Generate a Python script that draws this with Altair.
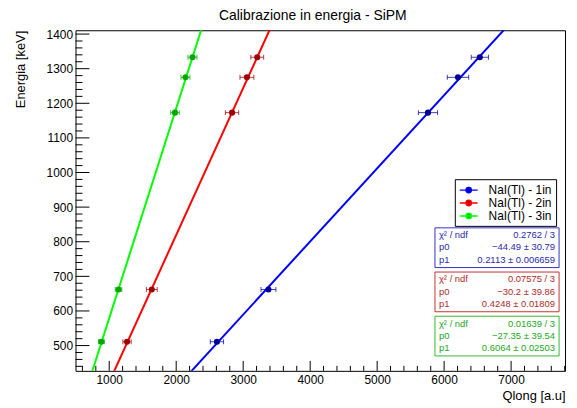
import altair as alt
import pandas as pd
import numpy as np

FONT = "Liberation Sans"

title_text = "Calibrazione in energia - SiPM"
x_title = "Qlong [a.u]"
y_title = "Energia [keV]"

series = ["NaI(Tl) - 1in", "NaI(Tl) - 2in", "NaI(Tl) - 3in"]
energy = [511, 662, 1173, 1275, 1333]

q_1in = [2608, 3377, 5759, 6207, 6533]
err_1in = [99, 111, 143, 160, 128]
q_2in = [1266, 1636, 2834, 3056, 3210]
err_2in = [62, 81, 99, 104, 96]
q_3in = [883, 1139, 1982, 2139, 2243]
err_3in = [44, 49, 64, 67, 67]

fit_p0 = [-44.49, -30.2, -27.35]
fit_p1 = [0.2113, 0.4248, 0.6064]

chi2_text = ["0.2762 / 3", "0.07575 / 3", "0.01639 / 3"]
p0_text = ["\u221244.49 \u00b1 30.79", "\u221230.2 \u00b1 39.86", "\u221227.35 \u00b1 39.54"]
p1_text = ["0.2113 \u00b1 0.006659", "0.4248 \u00b1 0.01809", "0.6064 \u00b1 0.02503"]
stat_names = ["\u03c7\u00b2 / ndf", "p0", "p1"]

x_major = [1000, 2000, 3000, 4000, 5000, 6000, 7000]
y_major = [500, 600, 700, 800, 900, 1000, 1100, 1200, 1300, 1400]

line_colors = ["#0000ff", "#ff0000", "#00ff00"]
marker_colors = ["#000099", "#a00000", "#00a800"]
stat_text_colors = ["#2a2ab0", "#b02a2a", "#22a822"]
stat_border_colors = ["#3030c8", "#c83030", "#30b830"]

x_domain = [497, 7805]
y_domain = [427, 1411]
W, H = 493, 343

# ---------- data frames ----------
qs = [q_1in, q_2in, q_3in]
errs = [err_1in, err_2in, err_3in]
rows = []
for s, q, e in zip(series, qs, errs):
    for E, qi, ei in zip(energy, q, e):
        rows.append({"series": s, "E": E, "q": qi, "lo": qi - ei, "hi": qi + ei})
pts = pd.DataFrame(rows)

line_rows = []
for s, a, b in zip(series, fit_p0, fit_p1):
    for E in (380.0, 1460.0):
        line_rows.append({"series": s, "E": E, "q": (E - a) / b})
lines_df = pd.DataFrame(line_rows)

x_minor = [int(v) for v in np.arange(600, 7801, 200) if v % 1000 != 0]
y_minor = [int(v) for v in np.arange(440, 1401, 20) if v % 100 != 0]

xscale = alt.Scale(domain=x_domain, nice=False, zero=False)
yscale = alt.Scale(domain=y_domain, nice=False, zero=False)

xaxis = alt.Axis(values=x_major, ticks=False, domain=False, grid=False, format="d",
                 labelFont=FONT, labelFontSize=12, labelColor="black", labelPadding=4,
                 labelFlush=False, labelOverlap=False,
                 title=x_title, titleFont=FONT, titleFontSize=13, titleFontWeight="normal",
                 titleColor="black", titleAlign="right", titleX=W, titleY=29,
                 titleBaseline="alphabetic")
yaxis = alt.Axis(values=y_major, ticks=False, domain=False, grid=False, format="d",
                 labelFont=FONT, labelFontSize=12, labelColor="black", labelPadding=3,
                 labelFlush=False, labelOverlap=False,
                 title=y_title, titleFont=FONT, titleFontSize=13, titleFontWeight="normal",
                 titleColor="black", titleAngle=270, titleAlign="right", titleX=-55, titleY=0,
                 titleBaseline="middle")


def X(field):
    return alt.X(field, scale=xscale, axis=xaxis)


def Y(field):
    return alt.Y(field, scale=yscale, axis=yaxis)


one = pd.DataFrame({"d": [0]})

legend = alt.Legend(
    title=None, orient="none", legendX=382, legendY=150,
    strokeColor="black", fillColor="white", padding=4, rowPadding=0,
    labelFont=FONT, labelFontSize=12, labelColor="black",
    symbolType="M-1.5,0L1.5,0M-0.45,0A0.45,0.45,0,1,1,0.45,0A0.45,0.45,0,1,1,-0.45,0Z",
    symbolSize=144, symbolOffset=3, labelOffset=13, symbolStrokeWidth=1.5,
    symbolOpacity=1,
    labelExpr="datum.label + '    '",
)

layers = []

# fit lines
layers.append(
    alt.Chart(lines_df).mark_line(clip=True, strokeWidth=2).encode(
        x=X("q:Q"), y=Y("E:Q"),
        stroke=alt.Stroke("series:N", scale=alt.Scale(domain=series, range=line_colors), legend=legend),
        detail="series:N",
    )
)

color_enc_nolegend = alt.Color("series:N", scale=alt.Scale(domain=series, range=marker_colors), legend=None)

# error bars
layers.append(
    alt.Chart(pts).mark_rule(strokeWidth=1, opacity=0.75).encode(
        x=X("lo:Q"), x2="hi:Q", y=Y("E:Q"), color=color_enc_nolegend,
    )
)
for fld in ("lo", "hi"):
    layers.append(
        alt.Chart(pts).mark_tick(orient="vertical", size=5, thickness=1, opacity=0.75).encode(
            x=X(f"{fld}:Q"), y=Y("E:Q"), color=color_enc_nolegend,
        )
    )

# points
layers.append(
    alt.Chart(pts).mark_point(filled=True, size=38, opacity=1).encode(
        x=X("q:Q"), y=Y("E:Q"),
        color=alt.Color("series:N", scale=alt.Scale(domain=series, range=marker_colors), legend=legend),
    )
)

# inward ticks
layers.append(alt.Chart(pd.DataFrame({"v": x_major})).mark_rule(color="black", strokeWidth=1).encode(
    x=X("v:Q"), y=alt.value(H), y2=alt.value(H - 10)))
layers.append(alt.Chart(pd.DataFrame({"v": x_minor})).mark_rule(color="black", strokeWidth=1).encode(
    x=X("v:Q"), y=alt.value(H), y2=alt.value(H - 5)))
layers.append(alt.Chart(pd.DataFrame({"v": y_major})).mark_rule(color="black", strokeWidth=1).encode(
    y=Y("v:Q"), x=alt.value(0), x2=alt.value(14)))
layers.append(alt.Chart(pd.DataFrame({"v": y_minor})).mark_rule(color="black", strokeWidth=1).encode(
    y=Y("v:Q"), x=alt.value(0), x2=alt.value(7)))

# stat boxes
box_left, box_right = 362, 487
box_tops = [199, 243.5, 288]
box_h = 40
for i in range(3):
    top = box_tops[i]
    layers.append(alt.Chart(one).mark_rect(fill="white", stroke=stat_border_colors[i], strokeWidth=1).encode(
        x=alt.value(box_left), x2=alt.value(box_right), y=alt.value(top), y2=alt.value(top + box_h)))
    vals = [chi2_text[i], p0_text[i], p1_text[i]]
    for r in range(3):
        yy = top + 7.5 + r * 12.3
        layers.append(alt.Chart(one).mark_text(align="left", baseline="middle", font=FONT, fontSize=9.5,
                                               color=stat_text_colors[i]).encode(
            x=alt.value(box_left + 4), y=alt.value(yy), text=alt.value(stat_names[r])))
        layers.append(alt.Chart(one).mark_text(align="right", baseline="middle", font=FONT, fontSize=9.5,
                                               color=stat_text_colors[i]).encode(
            x=alt.value(box_right - 4), y=alt.value(yy), text=alt.value(vals[r])))

# title
layers.append(alt.Chart(one).mark_text(align="center", baseline="top", font=FONT, fontSize=14,
                                       color="black").encode(
    x=alt.value(239), y=alt.value(-21), text=alt.value(title_text)))

chart = alt.layer(*layers).properties(
    width=W, height=H,
    padding={"left": 68, "top": 21, "right": 4, "bottom": 34},
    autosize=alt.AutoSizeParams(type="none"),
    background="white",
).configure_view(stroke="black", strokeWidth=1).configure_axis(
    titleFontWeight="normal", labelFontWeight="normal"
)

chart.save("out.html", embed_options={"renderer": "svg", "actions": False})
